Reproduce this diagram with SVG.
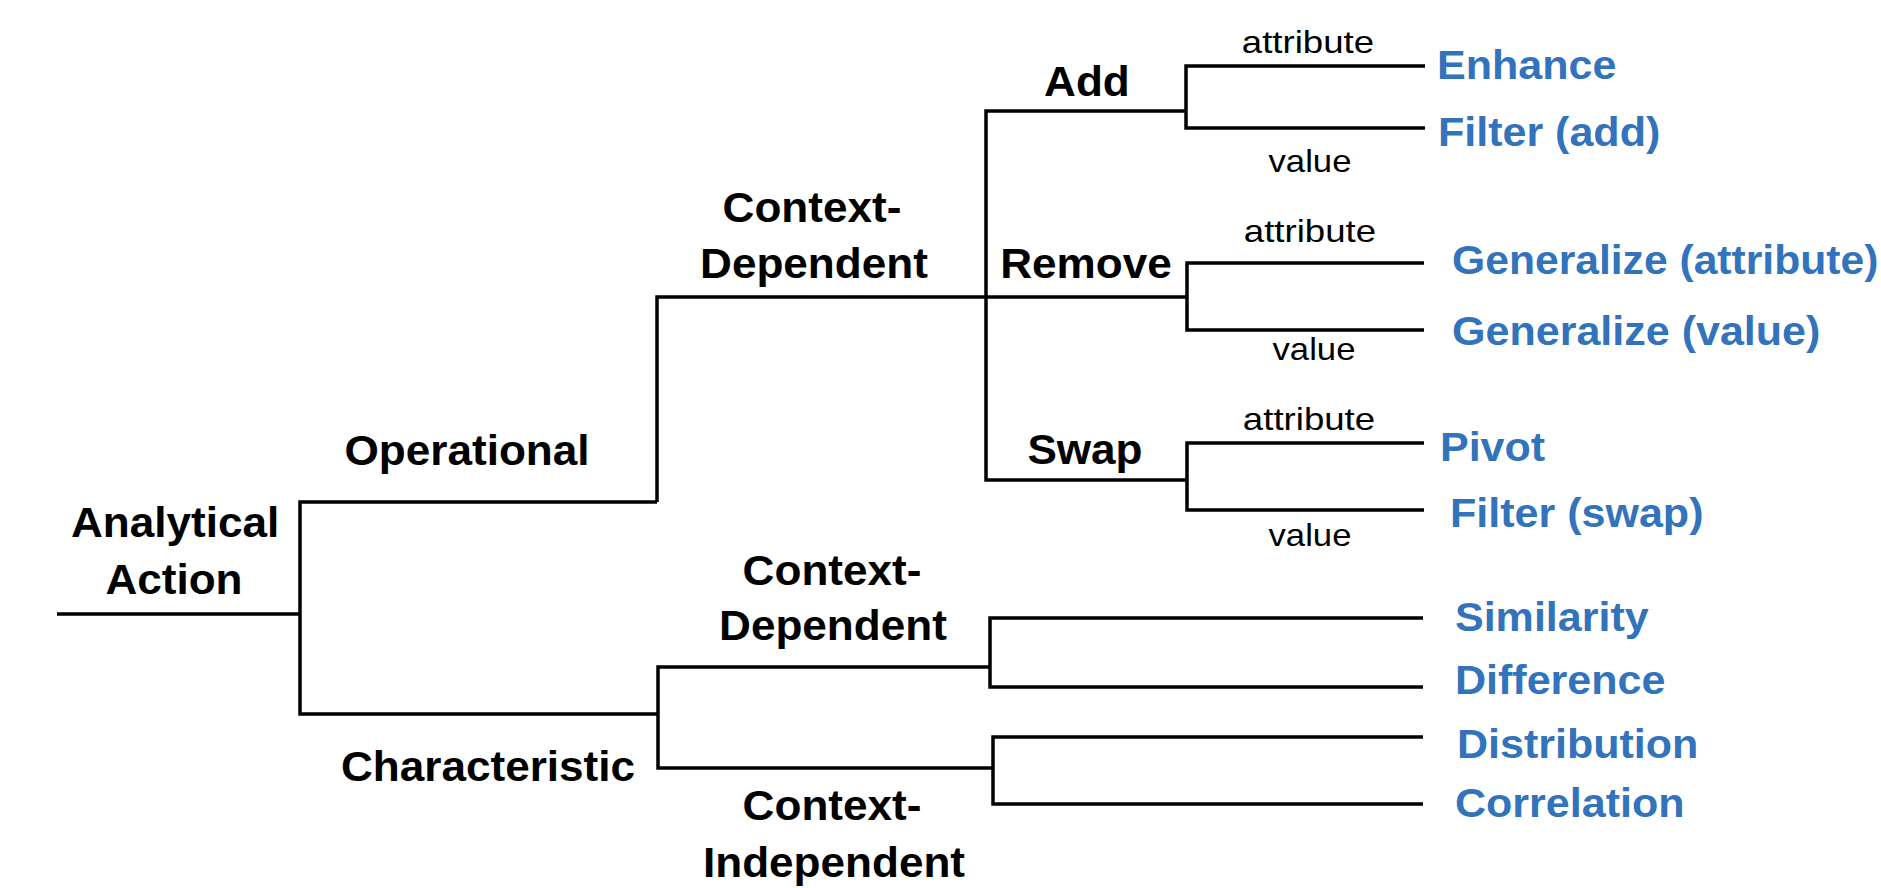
<svg xmlns="http://www.w3.org/2000/svg" width="1881" height="888" viewBox="0 0 1881 888">
<style>
.c{fill:none;stroke:#000;stroke-width:3.5;stroke-linejoin:miter}
.b{font-family:"Liberation Sans",Arial,sans-serif;font-weight:bold;font-size:42px;fill:#000;text-anchor:middle}
.r{font-family:"Liberation Sans",Arial,sans-serif;font-size:32px;fill:#000;text-anchor:middle}
.l{font-family:"Liberation Sans",Arial,sans-serif;font-weight:bold;font-size:41px;fill:#3273bb}
</style>
<rect width="1881" height="888" fill="#fff"/>
<g id="connectors">
<path class="c" d="M57,614 H300"/>
<path class="c" d="M300,614 V502 H657"/>
<path class="c" d="M300,614 V714 H658"/>
<path class="c" d="M657,502 V297 H986"/>
<path class="c" d="M986,297 V111 H1186"/>
<path class="c" d="M986,297 H1187"/>
<path class="c" d="M986,297 V480 H1187"/>
<path class="c" d="M1186,111 V66 H1425"/>
<path class="c" d="M1186,111 V128 H1425"/>
<path class="c" d="M1187,297 V263 H1424"/>
<path class="c" d="M1187,297 V330 H1424"/>
<path class="c" d="M1187,480 V443 H1424"/>
<path class="c" d="M1187,480 V510 H1424"/>
<path class="c" d="M658,714 V667 H990"/>
<path class="c" d="M658,714 V768 H993"/>
<path class="c" d="M990,667 V618 H1423"/>
<path class="c" d="M990,667 V687 H1423"/>
<path class="c" d="M993,768 V737 H1423"/>
<path class="c" d="M993,768 V804 H1423"/>
</g>
<g transform="scale(1.05 1)">
<g id="node-analytical-action"><text class="b" x="166.7" y="537">Analytical</text><text class="b" x="165.7" y="594">Action</text></g>
<g id="node-operational"><text class="b" x="444.8" y="465">Operational</text></g>
<g id="node-characteristic"><text class="b" x="464.8" y="781">Characteristic</text></g>
<g id="node-op-context-dependent"><text class="b" x="773.3" y="222">Context-</text><text class="b" x="775.2" y="278">Dependent</text></g>
<g id="node-char-context-dependent"><text class="b" x="792.4" y="585">Context-</text><text class="b" x="793.3" y="640">Dependent</text></g>
<g id="node-char-context-independent"><text class="b" x="792.4" y="820">Context-</text><text class="b" x="794.3" y="877">Independent</text></g>
<g id="node-add"><text class="b" x="1035.2" y="96">Add</text></g>
<g id="node-remove"><text class="b" x="1034.3" y="278">Remove</text></g>
<g id="node-swap"><text class="b" x="1033.3" y="464">Swap</text></g>
<g id="edge-labels">
<text class="r" x="1245.7" y="53" textLength="126" lengthAdjust="spacingAndGlyphs">attribute</text>
<text class="r" x="1247.6" y="172" textLength="79" lengthAdjust="spacingAndGlyphs">value</text>
<text class="r" x="1247.6" y="242" textLength="126" lengthAdjust="spacingAndGlyphs">attribute</text>
<text class="r" x="1251.4" y="360" textLength="79" lengthAdjust="spacingAndGlyphs">value</text>
<text class="r" x="1246.7" y="430" textLength="126" lengthAdjust="spacingAndGlyphs">attribute</text>
<text class="r" x="1247.6" y="546" textLength="79" lengthAdjust="spacingAndGlyphs">value</text>
</g>
<g id="node-enhance"><text class="l" x="1368.6" y="79">Enhance</text></g>
<g id="node-filter-add"><text class="l" x="1369.5" y="146">Filter (add)</text></g>
<g id="node-generalize-attribute"><text class="l" x="1382.9" y="274" textLength="406" lengthAdjust="spacingAndGlyphs">Generalize (attribute)</text></g>
<g id="node-generalize-value"><text class="l" x="1382.9" y="345">Generalize (value)</text></g>
<g id="node-pivot"><text class="l" x="1371.4" y="461">Pivot</text></g>
<g id="node-filter-swap"><text class="l" x="1381" y="527">Filter (swap)</text></g>
<g id="node-similarity"><text class="l" x="1385.7" y="631">Similarity</text></g>
<g id="node-difference"><text class="l" x="1385.7" y="694">Difference</text></g>
<g id="node-distribution"><text class="l" x="1387.6" y="758">Distribution</text></g>
<g id="node-correlation"><text class="l" x="1385.7" y="817">Correlation</text></g>
</g>
</svg>
